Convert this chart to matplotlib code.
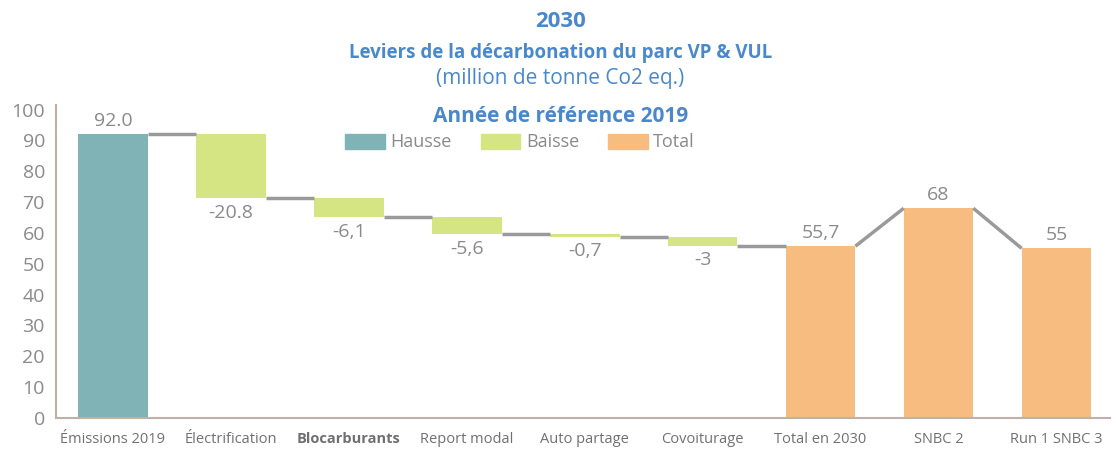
import matplotlib
matplotlib.use("Agg")
import matplotlib.pyplot as plt
from matplotlib.patches import Patch

categories = ["Émissions 2019", "Électrification", "Blocarburants", "Report modal",
              "Auto partage", "Covoiturage", "Total en 2030", "SNBC 2", "Run 1 SNBC 3"]
changes = [92.0, -20.8, -6.1, -5.6, -0.7, -3.0]
totals = [55.7, 68.0, 55.0]
labels = ["92.0", "-20.8", "-6,1", "-5,6", "-0,7", "-3", "55,7", "68", "55"]
yticks = [0, 10, 20, 30, 40, 50, 60, 70, 80, 90, 100]

C_UP = "#7fb3b6"
C_DOWN = "#d6e584"
C_TOT = "#f7bd80"
C_LINE = "#9a9a9a"
C_TXT = "#8a8a8a"
C_BLUE = "#4a88cc"

plt.rcParams['font.family'] = ['Open Sans', 'DejaVu Sans']

fig = plt.figure(figsize=(11.16, 4.53), dpi=100)
ax = fig.add_axes([0.0502, 0.0773, 0.944, 0.691])

w = 0.59
levels = []  # (bottom, top, end level)
cur = 0.0
for i, v in enumerate(changes):
    if i == 0:
        ax.bar(i, v, width=w, color=C_UP)
        cur = v
        levels.append((0, v, cur))
    else:
        new = cur + v
        ax.bar(i, cur - new, bottom=new, width=w, color=C_DOWN)
        levels.append((new, cur, new))
        cur = new
for j, t in enumerate(totals):
    i = len(changes) + j
    ax.bar(i, t, width=w, color=C_TOT)
    levels.append((0, t, t))

# connectors
n = len(categories)
for i in range(n - 1):
    if i < len(changes):
        y0 = levels[i][2]
        y1 = y0
    else:
        y0 = levels[i][1]
        y1 = levels[i + 1][1]
    ax.plot([i + w / 2, i + 1 - w / 2], [y0, y1], color=C_LINE, lw=2.5,
            solid_capstyle='butt', zorder=3)

# value labels
for i in range(n):
    b, t, e = levels[i]
    if 0 < i < len(changes):
        ax.text(i, b - 1.8, labels[i], ha='center', va='top', fontsize=14, color=C_TXT)
    else:
        ax.text(i, t + 1.5, labels[i], ha='center', va='bottom', fontsize=14, color=C_TXT)

ax.set_xlim(-0.483, 8.45)
ax.set_ylim(0, 101.5)
ax.set_yticks(yticks)
ax.set_xticks(range(n))
ax.set_xticklabels(categories, fontsize=10.5, color="#707070")
for lab in ax.get_xticklabels():
    if lab.get_text() == "Blocarburants":
        lab.set_fontweight('bold')
ax.tick_params(axis='y', labelsize=14, labelcolor=C_TXT, length=0, pad=8)
ax.tick_params(axis='x', length=0, pad=10)
for s in ['top', 'right']:
    ax.spines[s].set_visible(False)
for s in ['left', 'bottom']:
    ax.spines[s].set_color("#bfb0aa")
    ax.spines[s].set_linewidth(1.5)

fig.text(0.502, 0.952, "2030", ha='center', va='center', fontsize=16, fontweight='bold', color=C_BLUE)
fig.text(0.502, 0.883, "Leviers de la décarbonation du parc VP & VUL", ha='center', va='center',
         fontsize=13.5, fontweight='bold', color=C_BLUE)
fig.text(0.502, 0.826, "(million de tonne Co2 eq.)", ha='center', va='center',
         fontsize=15, color=C_BLUE)
fig.text(0.502, 0.742, "Année de référence 2019", ha='center', va='center',
         fontsize=15, fontweight='bold', color=C_BLUE)

handles = [Patch(color=C_UP, label="Hausse"), Patch(color=C_DOWN, label="Baisse"),
           Patch(color=C_TOT, label="Total")]
leg = fig.legend(handles=handles, loc='center', bbox_to_anchor=(0.466, 0.686), ncol=3,
                 frameon=False, fontsize=13, handlelength=2.2, handleheight=0.9,
                 columnspacing=1.6, handletextpad=0.3)
for t in leg.get_texts():
    t.set_color(C_TXT)

fig.savefig("out.png", dpi=100)
